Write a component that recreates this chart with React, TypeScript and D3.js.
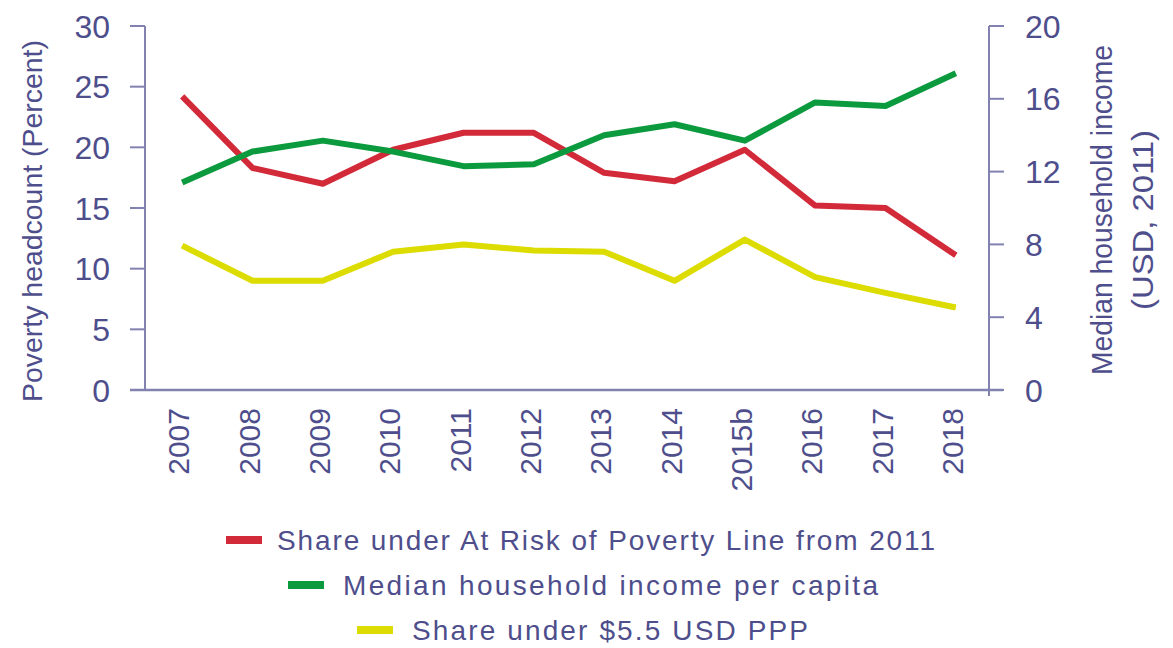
import React from "react";
import * as d3 from "d3";

const years = ["2007","2008","2009","2010","2011","2012","2013","2014","2015b","2016","2017","2018"];
const shareAtRisk = [24.2,18.3,17.0,19.8,21.2,21.2,17.9,17.2,19.8,15.2,15.0,11.1];
const medianIncome = [11.4,13.1,13.7,13.1,12.3,12.4,14.0,14.6,13.7,15.8,15.6,17.4];
const share55 = [11.9,9.0,9.0,11.4,12.0,11.5,11.4,9.0,12.4,9.3,8.0,6.8];
const leftTicks = [0,5,10,15,20,25,30];
const rightTicks = [0,4,8,12,16,20];
const legendLabels = ["Share under At Risk of Poverty Line from 2011","Median household income per capita","Share under $5.5 USD PPP"];

const W = 1173, H = 648;
const xL = 145, xR = 989, yTop = 26, yBot = 390;
const axisCol = "#8282b0";
const textCol = "#4e4e8c";
const font = "'Liberation Sans', Arial, sans-serif";
const colors = ["#d32a3a", "#0c9a3e", "#dcdc00"];

export default function App() {
  const x = d3.scalePoint<string>().domain(years).range([xL, xR]).padding(0.5);
  const yL = d3.scaleLinear().domain([0, 30]).range([yBot, yTop]);
  const yR = d3.scaleLinear().domain([0, 20]).range([yBot, yTop]);
  const lineL = d3.line<number>().x((_, i) => x(years[i])! + 2).y(d => yL(d));
  const lineR = d3.line<number>().x((_, i) => x(years[i])! + 2).y(d => yR(d));

  const legendRows = [
    { y: 540, sx: 226, tx: 277, len: 658 },
    { y: 585, sx: 288, tx: 343, len: 535 },
    { y: 630, sx: 357, tx: 412, len: 396 },
  ];

  return (
    <svg width={W} height={H} style={{ position: "absolute", left: 0, top: 0, background: "#fff" }}>
      {/* axes */}
      <line x1={xL} x2={xL} y1={yTop} y2={yBot} stroke={axisCol} strokeWidth={2} />
      <line x1={xR} x2={xR} y1={yTop} y2={yBot} stroke={axisCol} strokeWidth={2} />
      <line x1={130} x2={1003} y1={yBot} y2={yBot} stroke={axisCol} strokeWidth={2.5} />
      <line x1={xR} x2={xR} y1={yBot} y2={yBot + 6} stroke={axisCol} strokeWidth={2} />
      {leftTicks.map(t => (
        <g key={"l" + t}>
          <line x1={130} x2={xL} y1={yL(t)} y2={yL(t)} stroke={axisCol} strokeWidth={2} />
          <text x={110} y={yL(t)} dy="0.36em" textAnchor="end" fill={textCol} fontSize={32} fontFamily={font}>{t}</text>
        </g>
      ))}
      {rightTicks.map(t => (
        <g key={"r" + t}>
          <line x1={xR} x2={1004} y1={yR(t)} y2={yR(t)} stroke={axisCol} strokeWidth={2} />
          <text x={1025} y={yR(t)} dy="0.36em" textAnchor="start" fill={textCol} fontSize={32} fontFamily={font}>{t}</text>
        </g>
      ))}
      {years.map(yr => (
        <text key={yr} transform={`translate(${x(yr)! + 9},${408}) rotate(-90)`} textAnchor="end" fill={textCol} fontSize={30} fontFamily={font}>{yr}</text>
      ))}
      <text transform={`translate(42,221) rotate(-90)`} textAnchor="middle" fill={textCol} fontSize={28} fontFamily={font} textLength={362} lengthAdjust="spacingAndGlyphs">Poverty headcount (Percent)</text>
      <text transform={`translate(1112,210) rotate(-90)`} textAnchor="middle" fill={textCol} fontSize={29} fontFamily={font} textLength={330} lengthAdjust="spacingAndGlyphs">Median household income</text>
      <text transform={`translate(1153,220) rotate(-90)`} textAnchor="middle" fill={textCol} fontSize={29} fontFamily={font} textLength={180} lengthAdjust="spacingAndGlyphs">(USD, 2011)</text>

      {/* lines */}
      <path d={lineL(shareAtRisk)!} fill="none" stroke={colors[0]} strokeWidth={6} strokeLinejoin="round" />
      <path d={lineR(medianIncome)!} fill="none" stroke={colors[1]} strokeWidth={6} strokeLinejoin="round" />
      <path d={lineL(share55)!} fill="none" stroke={colors[2]} strokeWidth={6} strokeLinejoin="round" />

      {/* legend */}
      {legendLabels.map((lab, i) => (
        <g key={lab}>
          <line x1={legendRows[i].sx} x2={legendRows[i].sx + 36} y1={legendRows[i].y} y2={legendRows[i].y} stroke={colors[i]} strokeWidth={8} />
          <text x={legendRows[i].tx} y={legendRows[i].y} dy="0.36em" fill={textCol} fontSize={28} fontFamily={font} textLength={legendRows[i].len} lengthAdjust="spacing">{lab}</text>
        </g>
      ))}
    </svg>
  );
}
